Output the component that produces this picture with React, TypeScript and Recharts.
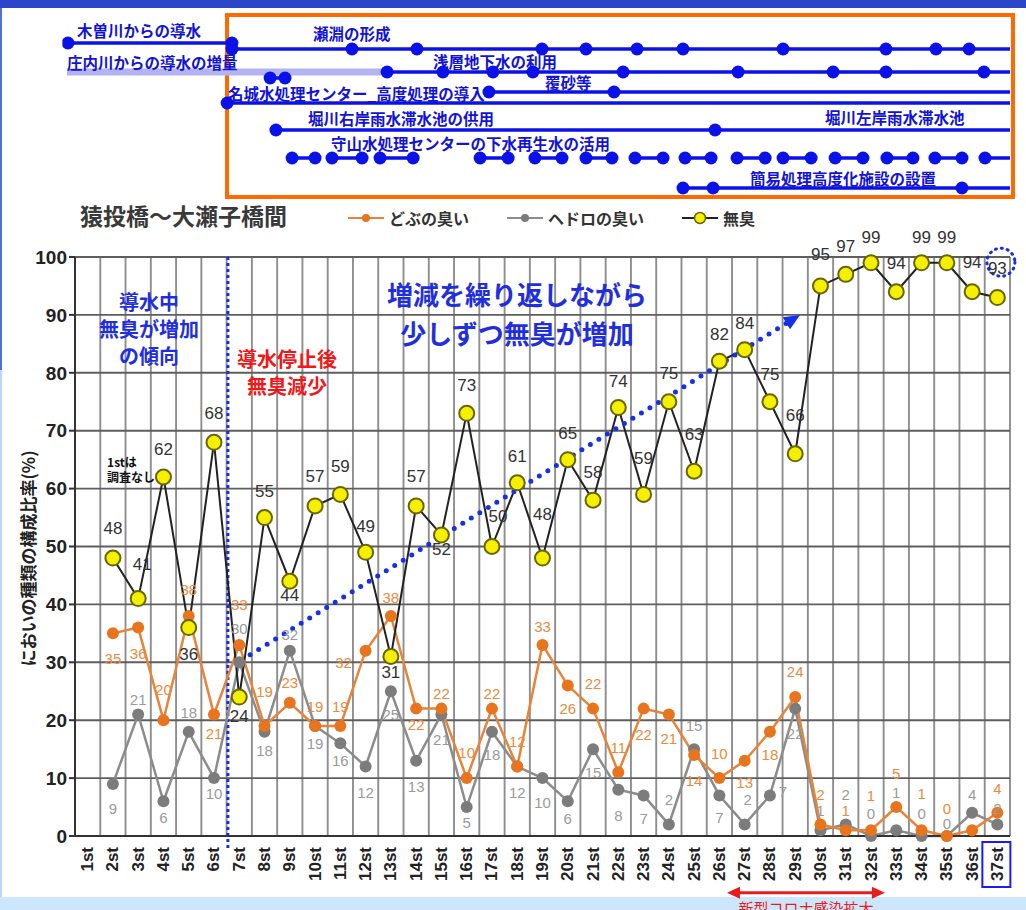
import React from 'react';
import {
  LineChart, Line, XAxis, YAxis, CartesianGrid, Legend, LabelList,
  ReferenceLine, ReferenceDot, Label,
} from 'recharts';

const JP = "'Noto Sans CJK JP', sans-serif";
const NUM = "'Liberation Sans', Arial, sans-serif";

// 調査回
const surveyRounds = [
  '1st', '2st', '3st', '4st', '5st', '6st', '7st', '8st', '9st', '10st',
  '11st', '12st', '13st', '14st', '15st', '16st', '17st', '18st', '19st', '20st',
  '21st', '22st', '23st', '24st', '25st', '26st', '27st', '28st', '29st', '30st',
  '31st', '32st', '33st', '34st', '35st', '36st', '37st',
];

// においの種類の構成比率 (%)  1st は調査なし
const noOdor = [null, 48, 41, 62, 36, 68, 24, 55, 44, 57, 59, 49, 31, 57, 52, 73, 50, 61, 48, 65, 58, 74, 59, 75, 63, 82, 84, 75, 66, 95, 97, 99, 94, 99, 99, 94, 93];
const sewerOdor = [null, 35, 36, 20, 38, 21, 33, 19, 23, 19, 19, 32, 38, 22, 22, 10, 22, 12, 33, 26, 22, 11, 22, 21, 14, 10, 13, 18, 24, 2, 1, 1, 5, 1, 0, 1, 4];
const sludgeOdor = [null, 9, 21, 6, 18, 10, 30, 18, 32, 19, 16, 12, 25, 13, 21, 5, 18, 12, 10, 6, 15, 8, 7, 2, 15, 7, 2, 7, 22, 1, 2, 0, 1, 0, 0, 4, 2];

const yTicks = [0, 10, 20, 30, 40, 50, 60, 70, 80, 90, 100];
const gridTicks = Array.from({ length: 38 }, (_, i) => i);

// label offsets (px) for each point, null = no label
const noOdorDy = [null, -30, -34, -28, 27, -29, 19, -26, 14, -29, -28, -26, 16, -29, 15, -28, -30, -26, -44, -26, -28, -26, -36, -28, -37, -27, -26, -27, -38, -31, -28, -25, -28, -25, -25, -29, -29];
const sewerDy = [null, 25, 26, -31, -26, 19, -40, -34, -20, -19, -19, 12, -18, 16, -15, -26, -15, -25, -18, 23, -25, -25, 26, 24, 26, -25, 22, 23, -26, -30, -20, -35, -34, -37, -28, null, -24];
const sludgeDy = [null, 25, -15, 16, -19, 15, -34, 19, -16, 18, 17, 26, 23, 26, 25, 15, 23, 26, 24, 17, 23, 26, 23, -25, -24, 22, -25, -4, 25, -20, -30, -23, -38, -23, -13, -18, -16];
const noOdorDx: Record<number, number> = { 2: 4, 16: 6 };
const sewerDx: Record<number, number> = { 11: -22 };
const sludgeDx: Record<number, number> = { 26: 3, 27: 13 };

const chartData = surveyRounds.map((name, i) => ({
  name,
  noOdor: noOdor[i],
  sewer: sewerOdor[i],
  sludge: sludgeOdor[i],
}));

// 施策の経過 (x = 調査回の位置, lane = 段)
const timelineRows = [
  { key: 'kiso', lane: 4.3, segments: [[0.22, 6.71]] },
  { key: 'sefuchi', lane: 4.9, segments: [[6.71, 11.46, 14.03, 18.98, 20.72, 22.74, 24.56, 28.52, 32.59, 34.57, 35.88]], tail: 37.5 },
  { key: 'shonai', lane: 7.2, segments: [], lead: 0.18, tail: 12.77, band: true },
  { key: 'shallow', lane: 7.2, segments: [[12.85, 15.06, 17.04, 18.62, 22.19, 26.74, 30.5, 32.59, 36.47]], tail: 37.5 },
  { key: 'pair', lane: 7.8, segments: [[8.22, 8.81]] },
  { key: 'sand', lane: 9.2, segments: [[16.88, 21.83]], tail: 37.5 },
  { key: 'meijo', lane: 10.3, segments: [[6.52]], tail: 37.5 },
  { key: 'horiR', lane: 13.0, segments: [[8.45, 25.83]], tail: 37.5 },
  {
    key: 'moriyama', lane: 15.8,
    segments: [[9.09, 10.0], [10.67, 11.86], [12.57, 13.88], [16.53, 17.64], [18.7, 19.77], [20.72, 21.75], [22.66, 23.77], [24.64, 25.67], [26.7, 27.81], [28.52, 29.63], [30.58, 31.68], [32.63, 33.66], [34.53, 35.6], [36.51]],
    tail: 37.5,
  },
  { key: 'kani', lane: 18.8, segments: [[24.56, 25.75, 35.6]], tail: 37.5 },
];

const timelineLabels = [
  { text: '木曽川からの導水', p: 0.58, lane: 3.0 },
  { text: '瀬淵の形成', p: 9.92, lane: 3.3 },
  { text: '庄内川からの導水の増量', p: 0.18, lane: 6.2 },
  { text: '浅層地下水の利用', p: 14.67, lane: 6.1 },
  { text: '覆砂等', p: 19.1, lane: 8.2 },
  { text: '名城水処理センター_高度処理の導入', p: 6.55, lane: 9.3 },
  { text: '堀川右岸雨水滞水池の供用', p: 9.72, lane: 11.8 },
  { text: '堀川左岸雨水滞水池', p: 30.18, lane: 11.7 },
  { text: '守山水処理センターの下水再生水の活用', p: 10.63, lane: 14.3 },
  { text: '簡易処理高度化施設の設置', p: 27.21, lane: 17.8 },
];

const plotNotes = [
  { lines: ['導水中', '無臭が増加', 'の傾向'], x: 2.93, y: 87.6, color: '#1f2fe0', size: 20, gap: 27, anchor: 'middle' },
  { lines: ['導水停止後', '無臭減少'], x: 8.39, y: 80.2, color: '#f01818', size: 20, gap: 27, anchor: 'middle' },
  { lines: ['増減を繰り返しながら', '少しずつ無臭が増加'], x: 17.49, y: 90.4, color: '#1f2fe0', size: 26, gap: 39, anchor: 'middle' },
  { lines: ['1stは', '調査なし'], x: 1.27, y: 63.3, color: '#111', size: 12, gap: 15, anchor: 'start' },
];

const series = [
  { key: 'sludge', name: 'ヘドロの臭い', line: '#8c8c8c', dot: '#7c7c7c', label: '#9a9a9a', dy: sludgeDy, dx: sludgeDx },
  { key: 'sewer', name: 'どぶの臭い', line: '#e8843a', dot: '#e8741e', label: '#ec8a3c', dy: sewerDy, dx: sewerDx },
];

const buildRow = (row: any) => {
  const pts: any[] = [];
  row.segments.forEach((seg: number[], si: number) => {
    if (si > 0) {
      const prev = row.segments[si - 1];
      pts.push({ p: (prev[prev.length - 1] + seg[0]) / 2, lane: null });
    }
    seg.forEach((p) => pts.push({ p, lane: row.lane, dot: true }));
  });
  if (row.lead != null) pts.unshift({ p: row.lead, lane: row.lane, dot: false });
  if (row.tail != null) pts.push({ p: row.tail, lane: row.lane, dot: false });
  return pts;
};

const renderTimelineDot = (props: any) => {
  const { cx, cy, payload, index } = props;
  if (!payload || !payload.dot || cy == null) return <g key={index} />;
  return <circle key={index} cx={cx} cy={cy} r={6.5} fill="#0a12e8" />;
};

const makeLabel = (dys: (number | null)[], dxs: Record<number, number>, color: string, size: number) =>
  (props: any) => {
    const { index, value } = props;
    const x = props.viewBox?.x ?? props.x;
    const y = props.viewBox?.y ?? props.y;
    const dy = dys[index];
    if (dy == null || value == null) return null;
    return (
      <text key={index} x={x + (dxs[index] ?? 0)} y={y + dy} fill={color} fontSize={size}
        fontFamily={NUM} textAnchor="middle" dominantBaseline="central">
        {value}
      </text>
    );
  };

const RoundTick = (props: any) => {
  const { x, y, payload } = props;
  const last = payload.value === '37st';
  return (
    <g transform={`translate(${x},${y})`}>
      {last && <rect x={-15} y={-2} width={28} height={45} fill="none" stroke="#1a1aff" strokeWidth={2} />}
      <text transform="rotate(-90)" x={-3} y={0} textAnchor="end" dominantBaseline="central"
        fill="#222" fontSize={17} fontWeight="bold" fontFamily={NUM}>
        {payload.value}
      </text>
    </g>
  );
};

const renderYLabel = (props: any) => {
  const vb = props.viewBox;
  const cx = 27;
  const cy = vb.y + vb.height / 2 + 12;
  return (
    <text transform={`rotate(-90 ${cx} ${cy})`} x={cx} y={cy} textAnchor="middle" dominantBaseline="central"
      fill="#222" fontSize={17} fontWeight="bold" fontFamily={JP}>
      においの種類の構成比率(%)
    </text>
  );
};

const CovidArrow = (props: any) => {
  const { x1, y1, x2 } = props;
  const c = '#e81c1c';
  return (
    <g>
      <line x1={x1 + 8} y1={y1} x2={x2 - 8} y2={y1} stroke={c} strokeWidth={3} />
      <polygon points={`${x1},${y1} ${x1 + 13},${y1 - 6} ${x1 + 13},${y1 + 6}`} fill={c} />
      <polygon points={`${x2},${y1} ${x2 - 13},${y1 - 6} ${x2 - 13},${y1 + 6}`} fill={c} />
      <text x={(x1 + x2) / 2} y={y1 + 15} textAnchor="middle" dominantBaseline="central" fill={c}
        fontSize={15} fontFamily={JP}>
        新型コロナ感染拡大
      </text>
    </g>
  );
};

const TrendArrow = (props: any) => {
  const { x1, y1, x2, y2 } = props;
  const ang = Math.atan2(y2 - y1, x2 - x1);
  const cos = Math.cos(ang);
  const sin = Math.sin(ang);
  const bx = x2 - 16 * cos;
  const by = y2 - 16 * sin;
  const c = '#1530e8';
  return (
    <g>
      <line x1={x1} y1={y1} x2={bx} y2={by} stroke={c} strokeWidth={5} strokeDasharray="0 10" strokeLinecap="round" />
      <polygon points={`${x2},${y2} ${bx - 7 * sin},${by + 7 * cos} ${bx + 7 * sin},${by - 7 * cos}`} fill={c} />
    </g>
  );
};

const renderNote = (note: any) => (props: any) => {
  const { cx, cy } = props;
  const top = cy - ((note.lines.length - 1) * note.gap) / 2;
  return (
    <g>
      {note.lines.map((t: string, i: number) => (
        <text key={t} x={cx} y={top + i * note.gap} textAnchor={note.anchor} dominantBaseline="central"
          fill={note.color} fontSize={note.size} fontWeight="bold" fontFamily={JP}>
          {t}
        </text>
      ))}
    </g>
  );
};

const legendItems = [
  { name: 'どぶの臭い', line: '#e8843a', fill: '#e8741e', stroke: 'none', r: 4 },
  { name: 'ヘドロの臭い', line: '#8c8c8c', fill: '#7c7c7c', stroke: 'none', r: 4 },
  { name: '無臭', line: '#222', fill: '#f4f000', stroke: '#6b6500', r: 5.5 },
];

const LegendContent = () => (
  <div style={{ display: 'flex', alignItems: 'center', height: 20 }}>
    {legendItems.map((it) => (
      <div key={it.name} style={{ display: 'flex', alignItems: 'center', marginRight: 38 }}>
        <svg width={36} height={16}>
          <line x1={0} y1={8} x2={36} y2={8} stroke={it.line} strokeWidth={2} />
          <circle cx={18} cy={8} r={it.r} fill={it.fill} stroke={it.stroke} strokeWidth={1.5} />
        </svg>
        <span style={{ marginLeft: 5, fontFamily: JP, fontWeight: 'bold', fontSize: 16, color: '#333' }}>{it.name}</span>
      </div>
    ))}
  </div>
);

export default function App() {
  return (
    <div style={{ position: 'absolute', left: 0, top: 0, width: 1026, height: 910, background: '#fff', overflow: 'hidden' }}>
      <div style={{ position: 'absolute', left: 0, top: 0, width: 1026, height: 8, background: '#2b46c9' }} />
      <div style={{ position: 'absolute', left: 0, top: 8, width: 2, height: 362, background: '#4f6fdc' }} />
      <div style={{ position: 'absolute', left: 0, top: 370, width: 2, height: 540, background: '#bcd6f6' }} />
      <div style={{ position: 'absolute', left: 0, top: 897, width: 1026, height: 13, background: '#cce7fb' }} />
      <div style={{ position: 'absolute', left: 225, top: 13, width: 790, height: 186, border: '4px solid #ff6a00', boxSizing: 'border-box' }} />

      <div style={{ position: 'absolute', left: 0, top: 0 }}>
        <LineChart width={1026} height={200} margin={{ top: 0, right: 16, bottom: 0, left: 62.4 }}>
          <XAxis type="number" dataKey="p" domain={[0, 37.5]} hide allowDataOverflow />
          <YAxis type="number" domain={[0, 20]} reversed hide allowDataOverflow />
          {timelineRows.map((row) => (
            <Line key={row.key} name={row.key} data={buildRow(row)} dataKey="lane" type="linear"
              stroke={row.band ? '#b3b3f3' : '#0a12e8'} strokeWidth={row.band ? 7 : 3.5}
              dot={row.band ? false : renderTimelineDot} activeDot={false} isAnimationActive={false} />
          ))}
          {timelineLabels.map((l) => (
            <ReferenceDot key={l.text} x={l.p} y={l.lane} r={0} ifOverflow="visible"
              shape={(props: any) => (
                <text x={props.cx} y={props.cy} textAnchor="start" dominantBaseline="central"
                  fill="#1212d8" fontSize={15.5} fontWeight="bold" fontFamily={JP}>
                  {l.text}
                </text>
              )} />
          ))}
        </LineChart>
      </div>

      <div style={{ position: 'absolute', left: 80, top: 201, fontFamily: JP, fontWeight: 'bold', fontSize: 23, color: '#3a3a3a', lineHeight: '28px' }}>
        猿投橋～大瀬子橋間
      </div>

      <div style={{ position: 'absolute', left: 0, top: 200 }}>
        <LineChart width={1026} height={710} data={chartData} margin={{ top: 57, right: 16, bottom: 24, left: 0 }}>
          <XAxis xAxisId="grid" dataKey="gridPos" type="number" domain={[0, 37]} ticks={gridTicks} hide allowDataOverflow />
          <XAxis dataKey="name" height={50} interval={0} tickLine={false} padding={{ left: 12.64, right: 12.64 }}
            axisLine={{ stroke: '#333', strokeWidth: 2 }} tick={<RoundTick />} />
          <YAxis width={75} domain={[0, 100]} ticks={yTicks} interval={0} tickSize={6}
            axisLine={{ stroke: '#333', strokeWidth: 2 }} tickLine={{ stroke: '#333', strokeWidth: 2 }}
            tick={{ fill: '#222', fontSize: 19, fontWeight: 'bold', fontFamily: NUM }}>
            <Label content={renderYLabel} />
          </YAxis>
          <CartesianGrid xAxisId="grid" horizontal={false} stroke="#8e8e8e" strokeWidth={1.9} />
          <CartesianGrid vertical={false} stroke="#5e5e5e" strokeWidth={1.9} />
          <Legend layout="horizontal" verticalAlign="middle" align="center" content={<LegendContent />}
            wrapperStyle={{ top: 8, left: 348, width: 'auto' }} />

          <ReferenceLine xAxisId="grid" segment={[{ x: 6.05, y: 100 }, { x: 6.05, y: -2.4 }]} ifOverflow="visible"
            stroke="#1a2be8" strokeWidth={3} strokeDasharray="3 3" />

          {series.map((s) => (
            <Line key={s.key} dataKey={s.key} name={s.name} type="linear" stroke={s.line} strokeWidth={2.5}
              dot={{ r: 6, fill: s.dot, stroke: 'none' }} activeDot={false} isAnimationActive={false}>
              <LabelList dataKey={s.key} content={makeLabel(s.dy, s.dx, s.label, 15)} />
            </Line>
          ))}
          <Line dataKey="noOdor" name="無臭" type="linear" stroke="#222" strokeWidth={2}
            dot={{ r: 7.5, fill: '#f4f000', stroke: '#6b6500', strokeWidth: 2 }} activeDot={false}
            isAnimationActive={false}>
            <LabelList dataKey="noOdor" content={makeLabel(noOdorDy, noOdorDx, '#333', 17)} />
          </Line>

          <ReferenceLine xAxisId="grid" segment={[{ x: 6.93, y: 31.3 }, { x: 28.69, y: 90 }]} ifOverflow="visible"
            shape={TrendArrow} />
          <ReferenceDot xAxisId="grid" x={36.64} y={99.1} r={14} fill="none" stroke="#1a2be8" strokeWidth={3}
            strokeDasharray="1 5" strokeLinecap="round" ifOverflow="visible" />
          <ReferenceLine xAxisId="grid" segment={[{ x: 25.8, y: -9.8 }, { x: 32.05, y: -9.8 }]} ifOverflow="visible"
            shape={CovidArrow} />
          {plotNotes.map((n) => (
            <ReferenceDot key={n.lines[0]} xAxisId="grid" x={n.x} y={n.y} r={0} ifOverflow="visible" shape={renderNote(n)} />
          ))}
        </LineChart>
      </div>
    </div>
  );
}
